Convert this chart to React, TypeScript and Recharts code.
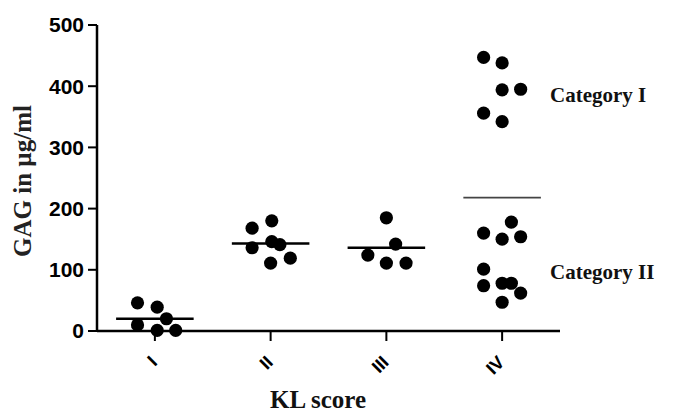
import { ReferenceLine, Scatter, ScatterChart, XAxis, YAxis } from "recharts";

// KL score groups, x = category position (1..4) with the plot's horizontal spread
const categories = ["I", "II", "III", "IV"];
const yTicks = [0, 100, 200, 300, 400, 500];

const klI = [
  { x: 0.85, y: 46 },
  { x: 1.02, y: 39 },
  { x: 1.1, y: 20 },
  { x: 0.85, y: 10 },
  { x: 1.02, y: 1 },
  { x: 1.18, y: 1 },
];
const klII = [
  { x: 1.84, y: 168 },
  { x: 2.01, y: 180 },
  { x: 1.84, y: 136 },
  { x: 2.01, y: 146 },
  { x: 2.08, y: 141 },
  { x: 2.0, y: 111 },
  { x: 2.17, y: 119 },
];
const klIII = [
  { x: 3.0, y: 185 },
  { x: 3.08, y: 142 },
  { x: 2.84, y: 124 },
  { x: 3.0, y: 111 },
  { x: 3.17, y: 111 },
];
const klIV = [
  { x: 3.84, y: 447 },
  { x: 4.0, y: 438 },
  { x: 4.0, y: 394 },
  { x: 4.16, y: 395 },
  { x: 3.84, y: 356 },
  { x: 4.0, y: 342 },
  { x: 4.08, y: 178 },
  { x: 3.84, y: 160 },
  { x: 4.0, y: 150 },
  { x: 4.16, y: 154 },
  { x: 3.84, y: 101 },
  { x: 3.84, y: 74 },
  { x: 4.0, y: 78 },
  { x: 4.08, y: 78 },
  { x: 4.16, y: 62 },
  { x: 4.0, y: 47 },
];
const means = [20, 143, 136, 218];

const sans = "'Liberation Sans', Arial, sans-serif";
const serif = "'Liberation Serif', 'Times New Roman', serif";

const Dot = (props: any) => <circle cx={props.cx} cy={props.cy} r={6.6} fill='#000' />;

const RomanTick = ({ x, y, payload }: any) => (
  <g transform={`translate(${x - 1},${y + 16})`}>
    <text transform='rotate(-45)' textAnchor='end' dy='0.35em' fontFamily={sans} fontWeight='bold' fontSize={18} fill='#000'>
      {categories[payload.value - 1]}
    </text>
  </g>
);

export default function App() {
  const groups = [klI, klII, klIII, klIV];
  return (
    <div style={{ position: "relative", width: 673, height: 412 }}>
      <style>{"body{margin:0}"}</style>
      <ScatterChart width={673} height={412} margin={{ top: 25, right: 113, left: 0, bottom: 21 }}>
        <XAxis
          type='number'
          dataKey='x'
          domain={[0.5, 4.5]}
          ticks={[1, 2, 3, 4]}
          tick={<RomanTick />}
          height={60}
          tickSize={10}
          axisLine={{ stroke: "#000", strokeWidth: 2.5 }}
          tickLine={{ stroke: "#000", strokeWidth: 2 }}
        />
        <YAxis
          type='number'
          dataKey='y'
          domain={[0, 500]}
          ticks={yTicks}
          width={97}
          tickSize={9}
          tickMargin={4}
          tick={{ fontFamily: sans, fontWeight: "bold", fontSize: 21, fill: "#000" }}
          axisLine={{ stroke: "#000", strokeWidth: 2.5 }}
          tickLine={{ stroke: "#000", strokeWidth: 2 }}
        />
        {groups.map((g, i) => (
          <Scatter key={categories[i]} data={g} shape={<Dot />} isAnimationActive={false} />
        ))}
        {means.map((m, i) => (
          <ReferenceLine
            key={i}
            segment={[
              { x: i + 1 - 0.335, y: m },
              { x: i + 1 + 0.335, y: m },
            ]}
            stroke={i === 3 ? "#444" : "#000"}
            strokeWidth={i === 3 ? 1.6 : 2.5}
          />
        ))}
      </ScatterChart>
      <svg width={673} height={412} style={{ position: "absolute", left: 0, top: 0, pointerEvents: "none" }}>
        <text x={22} y={181} transform='rotate(-90 22 181)' textAnchor='middle' dy='0.35em' fontFamily={serif} fontWeight='bold' fontSize={25} fill='#222'>
          GAG in µg/ml
        </text>
        <text x={318} y={408} textAnchor='middle' fontFamily={serif} fontWeight='bold' fontSize={25} fill='#111'>
          KL score
        </text>
        <text x={550} y={95} dy='0.35em' fontFamily={serif} fontWeight='bold' fontSize={21} fill='#111'>
          Category I
        </text>
        <text x={550} y={272} dy='0.35em' fontFamily={serif} fontWeight='bold' fontSize={21} fill='#111'>
          Category II
        </text>
      </svg>
    </div>
  );
}
